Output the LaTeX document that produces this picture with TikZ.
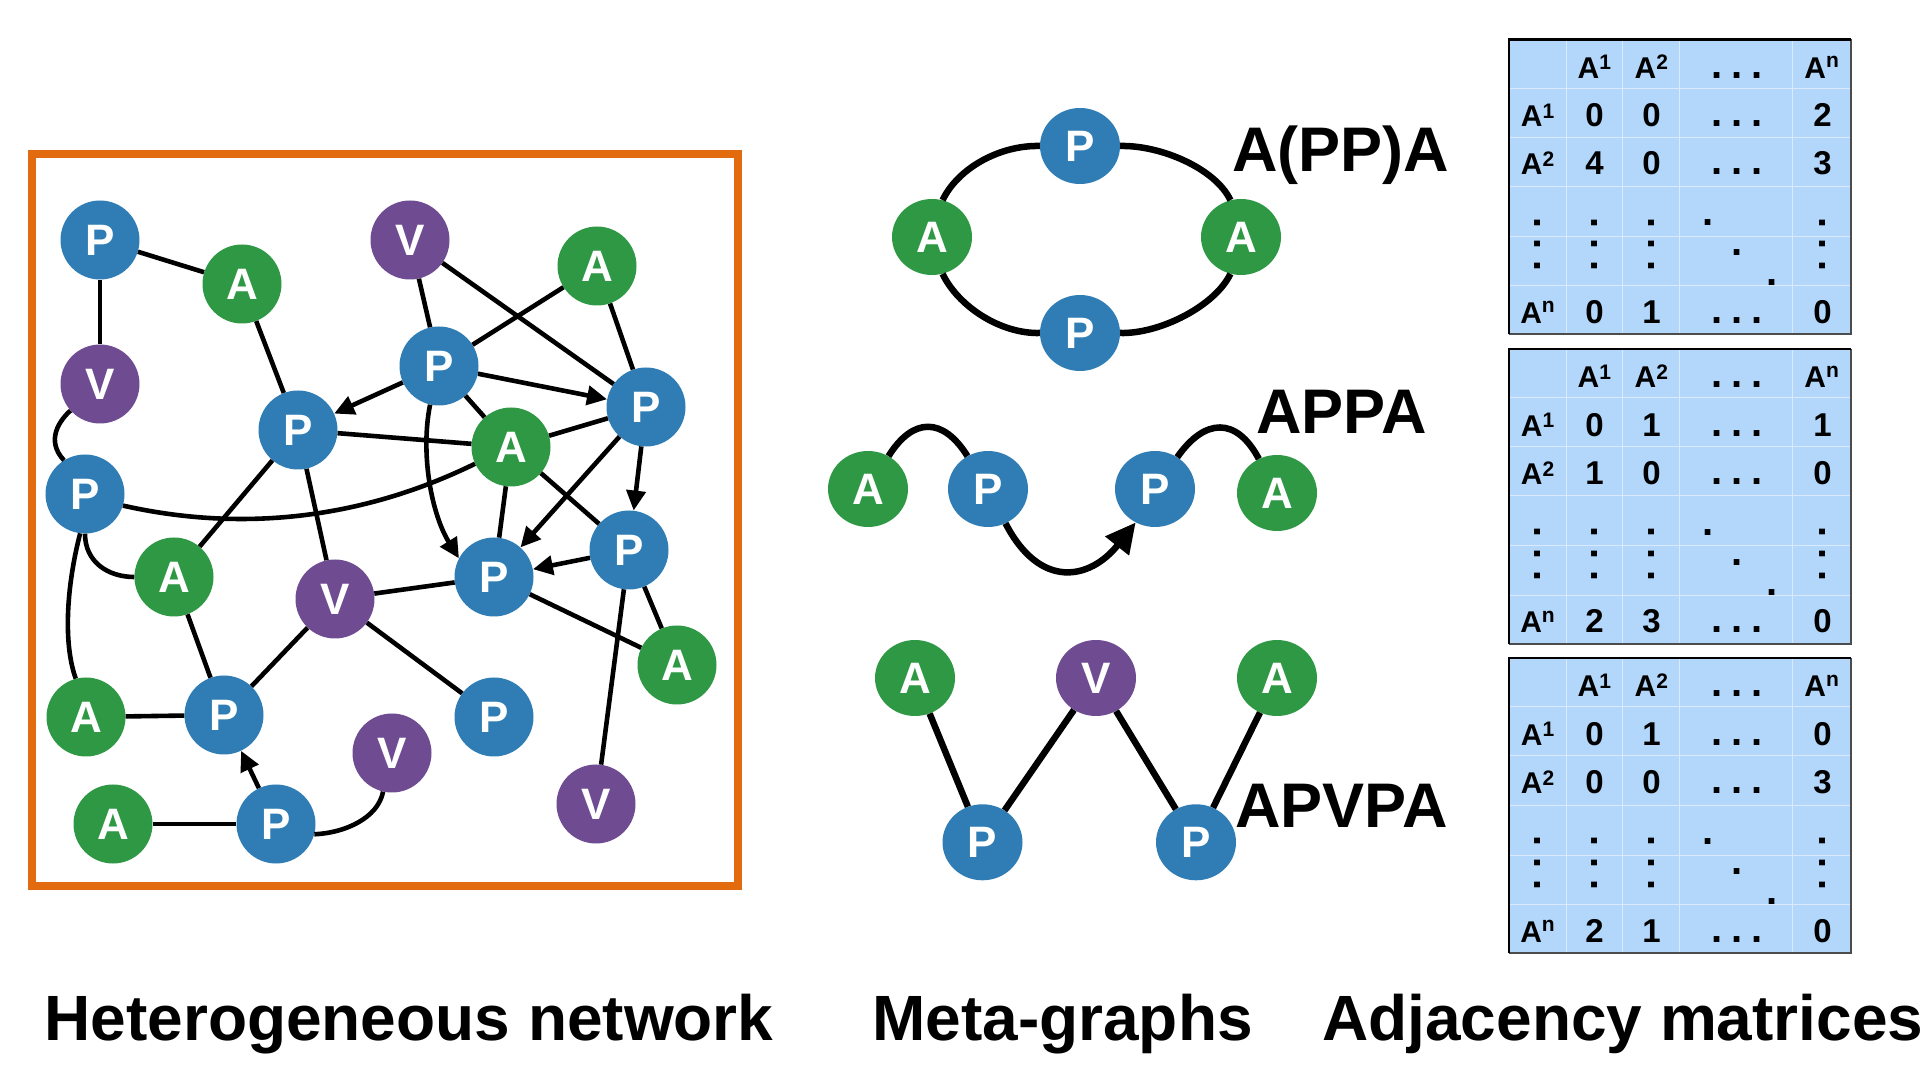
\documentclass[tikz,border=0pt]{standalone}
\usepackage{fontspec}
\setmainfont{Liberation Sans}
\usetikzlibrary{arrows.meta,shapes.geometric}
\definecolor{cP}{RGB}{47,125,180}
\definecolor{cA}{RGB}{46,152,68}
\definecolor{cV}{RGB}{111,75,146}
\definecolor{cO}{RGB}{226,107,16}
\definecolor{cM}{RGB}{179,215,250}
\definecolor{cG}{RGB}{218,234,252}
\newcommand\myfs[1]{\fontsize{#1}{#1}\selectfont\bfseries}
\newcommand\Asup[2]{A\raisebox{#2}{\myfs{21}#1}}
\tikzset{
  nd/.style={circle, minimum size=79pt, inner sep=0pt, text=white, font=\myfs{44}},
  Pn/.style={nd, fill=cP}, An/.style={nd, fill=cA}, Vn/.style={nd, fill=cV},
  me/.style={ellipse, minimum width=80pt, minimum height=76pt, inner sep=0pt, text=white, font=\myfs{44}},
  mP/.style={me, fill=cP}, mA/.style={me, fill=cA}, mV/.style={me, fill=cV},
  ed/.style={line width=4.6pt},
  ar/.style={ed, -{Triangle[length=20pt,width=19pt]}},
  med/.style={line width=6.5pt},
  mar/.style={med, -{Triangle[length=30pt,width=29pt]}},
  lab/.style={anchor=base west, inner sep=0pt, font=\myfs{63}},
  capt/.style={anchor=base west, inner sep=0pt, font=\myfs{64}},
  mhd/.style={anchor=base, inner sep=0pt, font=\myfs{30}},
  mnum/.style={anchor=base, inner sep=0pt, font=\myfs{33}},
  mdot/.style={inner sep=0pt, font=\myfs{40}},
  vdot/.style={mdot, rotate=90},
}
\newcommand\adjmat[9]{%
  \fill[cM] (0,0) rectangle (342,-295);
  \foreach \gx in {57,113.5,170.5,283.5} \draw[cG, line width=1pt] (\gx,0) -- (\gx,-295);
  \foreach \gy in {49,98,147,197,246.5} \draw[cG, line width=1pt] (0,-\gy) -- (342,-\gy);
  \draw[black!70, line width=1.8pt] (0,-295) -- (342,-295) -- (342,0);
  \draw[black, line width=2.5pt] (0,-295) -- (0,0) -- (342,0);
  \node[mhd] (h1) at (85.3,-39) {\Asup{1}{8.5pt}};
  \node[mhd] (h2) at (142.3,-39) {\Asup{2}{8.5pt}};
  \node[mdot, anchor=base] (h3) at (227.7,-39) {.\kern8.9pt.\kern8.9pt.};
  \node[mhd] (h4) at (312.7,-39) {\Asup{n}{10.5pt}};
  \node[mhd] (r1) at (28.5,-87.4) {\Asup{1}{8.5pt}};
  \node[mhd] (r2) at (28.5,-135.7) {\Asup{2}{8.5pt}};
  \node[mhd] (r3) at (28.5,-284) {\Asup{n}{10.5pt}};
  \node[mnum] (e11) at (85.5,-87.4) {#1};
  \node[mnum] (e12) at (142.5,-87.4) {#2};
  \node[mdot, anchor=base] (e13) at (227.7,-87.4) {.\kern8.9pt.\kern8.9pt.};
  \node[mnum] (e14) at (313.5,-87.4) {#3};
  \node[mnum] (e21) at (85.5,-135.7) {#4};
  \node[mnum] (e22) at (142.5,-135.7) {#5};
  \node[mdot, anchor=base] (e23) at (227.7,-135.7) {.\kern8.9pt.\kern8.9pt.};
  \node[mnum] (e24) at (313.5,-135.7) {#6};
  \node[mnum] (e31) at (85.5,-284) {#7};
  \node[mnum] (e32) at (142.5,-284) {#8};
  \node[mdot, anchor=base] (e33) at (227.7,-284) {.\kern8.9pt.\kern8.9pt.};
  \node[mnum] (e34) at (313.5,-284) {#9};
  \foreach \cx [count=\ci] in {28.7,85.3,142.7,313.3}
    \node[vdot] (v\ci) at (\cx,-205) {.\kern10.5pt.\kern10.5pt.};
  \node[mdot] (g1) at (199.3,-183.4) {.};
  \node[mdot] (g2) at (227.7,-213.4) {.};
  \node[mdot] (g3) at (262.7,-243.4) {.};
}
\begin{document}
\begin{tikzpicture}[x=1pt,y=1pt]
\fill[white] (0,0) rectangle (1920,1080);
\useasboundingbox (0,0) rectangle (1920,1080);

% ---------- Heterogeneous network ----------
\draw[cO, line width=8pt] (32,926) rectangle (737.5,194);

\node[Pn] (P1) at (100,840) {P};
\node[An] (A2) at (242,796) {A};
\node[Vn] (V3) at (410,840) {V};
\node[An] (A4) at (597,814) {A};
\node[Vn] (V5) at (100,696) {V};
\node[Pn] (P6) at (439,714) {P};
\node[Pn] (P7) at (298,650) {P};
\node[An] (A8) at (511,633) {A};
\node[Pn] (P9) at (646,673) {P};
\node[Pn] (P10) at (85,586) {P};
\node[An] (A11) at (174,503) {A};
\node[Vn] (V12) at (335,481) {V};
\node[Pn] (P13) at (494,503) {P};
\node[Pn] (P14) at (629,530) {P};
\node[An] (A15) at (677,415) {A};
\node[An] (A16) at (86,363) {A};
\node[Pn] (P17) at (224,365) {P};
\node[Pn] (P18) at (494,363) {P};
\node[Vn] (V19) at (392,327) {V};
\node[Vn] (V20) at (596,276) {V};
\node[An] (A21) at (113,256) {A};
\node[Pn] (P22) at (276,256) {P};

\draw[ed] (P1) -- (A2);
\draw[ed] (P1) -- (V5);
\draw[ed] (A2) -- (P7);
\draw[ed] (V3) -- (P6);
\draw[ed] (V3) -- (P9);
\draw[ed] (A4) -- (P6);
\draw[ed] (A4) -- (P9);
\draw[ed] (P6) -- (A8);
\draw[ed] (P7) -- (A8);
\draw[ed] (A8) -- (P9);
\draw[ed] (A8) -- (P13);
\draw[ed] (A8) -- (P14);
\draw[ed] (P14) -- (A15);
\draw[ed] (P14) -- (V20);
\draw[ed] (P13) -- (A15);
\draw[ed] (V12) -- (P13);
\draw[ed] (P7) -- (V12);
\draw[ed] (P7) -- (A11);
\draw[ed] (A11) -- (P17);
\draw[ed] (A16) -- (P17);
\draw[ed] (V12) -- (P17);
\draw[ed] (V12) -- (P18);
\draw[ed] (A21) -- (P22);
\draw[ar] (P6) -- (P7);
\draw[ar] (P6) -- (P9);
\draw[ar] (P9) -- (P14);
\draw[ar] (P9) -- (P13);
\draw[ar] (P14) -- (P13);
\draw[ar] (P22) -- (P17);
\draw[ar] (P6.-103) .. controls (420,625) and (432,565) .. (P13.152);
\draw[ed] (V5.222) .. controls (60,660) and (45,640) .. (P10.122);
\draw[ed] (P10.-17) .. controls (240,548) and (360,560) .. (A8.205);
\draw[ed] (P10.-90) .. controls (85,518) and (108,503) .. (A11.west);
\draw[ed] (P10.-97) .. controls (68,500) and (62,440) .. (A16.105);
\draw[ed] (P22.-15) .. controls (345,247) and (378,262) .. (V19.-103);

% ---------- Meta-graphs ----------
\node[mA] (ma1) at (932,843) {A};
\node[mP] (mp1) at (1080,934) {P};
\node[mA] (ma2) at (1241,843) {A};
\node[mP] (mp2) at (1080,747) {P};
\draw[med] (ma1.74) .. controls (958,912) and (1000,935) .. (mp1.west);
\draw[med] (ma2.106) .. controls (1215,912) and (1160,935) .. (mp1.east);
\draw[med] (ma1.-74) .. controls (958,774) and (1000,746) .. (mp2.west);
\draw[med] (ma2.-106) .. controls (1215,774) and (1160,746) .. (mp2.east);
\node[lab] (l1) at (1232,908) {A(PP)A};

\node[mA] (mb1) at (868,591) {A};
\node[mP] (mb2) at (988,591) {P};
\node[mP] (mb3) at (1155,591) {P};
\node[mA] (mb4) at (1277,587) {A};
\draw[med] (mb1) to[out=58,in=122,looseness=1.5] (mb2);
\draw[med] (mb3) to[out=55,in=118,looseness=1.5] (mb4);
\draw[mar] (mb2.-63) .. controls (1040,490) and (1090,500) .. (mb3.-120);
\node[lab] (l2) at (1256,646.4) {APPA};

\node[mA] (mc1) at (915,402) {A};
\node[mV] (mc2) at (1096,402) {V};
\node[mA] (mc3) at (1277,402) {A};
\node[mP] (mc4) at (982.5,237.7) {P};
\node[mP] (mc5) at (1196,237.7) {P};
\draw[med] (mc1) -- (mc4);
\draw[med] (mc4) -- (mc2);
\draw[med] (mc2) -- (mc5);
\draw[med] (mc5) -- (mc3);
\node[lab] (l3) at (1235,252.5) {APVPA};

% ---------- Adjacency matrices ----------
\begin{scope}[shift={(1509,1040.7)}, name prefix=m1-]
\adjmat{0}{0}{2}{4}{0}{3}{0}{1}{0}
\end{scope}
\begin{scope}[shift={(1509,731)}, name prefix=m2-]
\adjmat{0}{1}{1}{1}{0}{0}{2}{3}{0}
\end{scope}
\begin{scope}[shift={(1509,422)}, name prefix=m3-]
\adjmat{0}{1}{0}{0}{0}{3}{2}{1}{0}
\end{scope}

% ---------- Captions ----------
\node[capt] (c1) at (44.3,39.3) {Heterogeneous network};
\node[capt] (c2) at (872,39.3) {Meta-graphs};
\node[capt] (c3) at (1322,39.3) {Adjacency matrices};
\end{tikzpicture}
\end{document}
